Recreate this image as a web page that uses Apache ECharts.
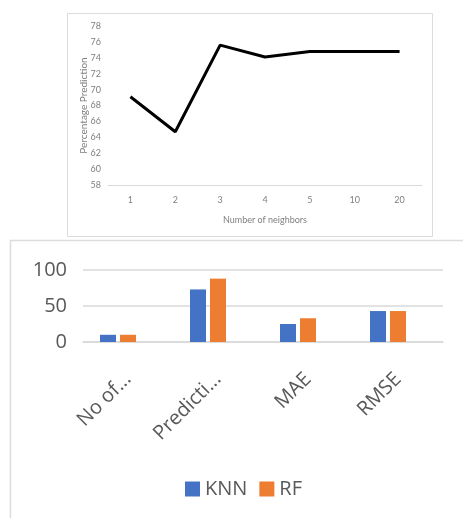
<!DOCTYPE html>
<html>
<head>
<meta charset="utf-8">
<script src="https://cdn.jsdelivr.net/npm/echarts@6/dist/echarts.min.js"></script>
<style>
  html, body { margin: 0; padding: 0; background: #fff; }
  #chart { width: 463px; height: 518px; }
</style>
</head>
<body>
<div id="chart"></div>
<script>
// Accuracy vs. number of neighbours (top panel)
const neighbors = ['1', '2', '3', '4', '5', '10', '20'];
const accuracy = [69.1, 64.7, 75.6, 74.1, 74.8, 74.8, 74.8];

// Model comparison (bottom panel)
const metrics = ['No of...', 'Predicti...', 'MAE', 'RMSE'];
const knnValues = [10, 73, 25, 43];
const rfValues = [10, 88, 33, 43];
const spareValues = [null, null, null, null];

const chart = echarts.init(document.getElementById('chart'), null, { renderer: 'canvas' });

const smallFont = 'Lato, "Open Sans", sans-serif';
const bigFont = '"Open Sans", "Noto Sans", sans-serif';

chart.setOption({
  animation: false,
  backgroundColor: '#fff',
  graphic: [
    { type: 'rect', shape: { x: 67.5, y: 13.5, width: 365, height: 223 },
      style: { fill: 'none', stroke: '#dcdcdc', lineWidth: 1 }, z: -1 },
    { type: 'rect', shape: { x: 10.5, y: 240.5, width: 480, height: 300 },
      style: { fill: 'none', stroke: '#dcdcdc', lineWidth: 1.5 }, z: -1 }
  ],
  legend: {
    data: ['KNN', 'RF'],
    left: 180,
    top: 474,
    itemWidth: 15,
    itemHeight: 15,
    itemGap: 12,
    icon: 'rect',
    textStyle: { fontFamily: bigFont, fontSize: 20, color: '#595959' }
  },
  grid: [
    { left: 108, right: 41, top: 26, bottom: 333 },
    { left: 83, right: 20, top: 270, bottom: 176 }
  ],
  xAxis: [
    {
      gridIndex: 0,
      type: 'category',
      data: neighbors,
      boundaryGap: true,
      name: 'Number of neighbors',
      nameLocation: 'middle',
      nameGap: 31,
      nameTextStyle: { fontFamily: smallFont, fontSize: 9, color: '#7f7f7f' },
      axisLine: { lineStyle: { color: '#d9d9d9', width: 1 } },
      axisTick: { show: false },
      axisLabel: { fontFamily: smallFont, fontSize: 9, color: '#7f7f7f', margin: 11 }
    },
    {
      gridIndex: 1,
      type: 'category',
      data: metrics,
      axisLine: { lineStyle: { color: '#d9d9d9', width: 1.5 } },
      axisTick: { show: false },
      axisLabel: { fontFamily: bigFont, fontSize: 20, color: '#595959', rotate: 45, margin: 34, interval: 0 }
    }
  ],
  yAxis: [
    {
      gridIndex: 0,
      type: 'value',
      min: 58,
      max: 78,
      interval: 2,
      name: 'Percentage Prediction',
      nameLocation: 'middle',
      nameGap: 19,
      nameMoveOverlap: false,
      nameTextStyle: { fontFamily: smallFont, fontSize: 10, color: '#7f7f7f' },
      axisLine: { show: false },
      axisTick: { show: false },
      splitLine: { show: false },
      axisLabel: { fontFamily: smallFont, fontSize: 9, color: '#7f7f7f', margin: 7 }
    },
    {
      gridIndex: 1,
      type: 'value',
      min: 0,
      max: 100,
      interval: 50,
      axisLine: { show: false },
      axisTick: { show: false },
      splitLine: { lineStyle: { color: '#d9d9d9', width: 1.5 } },
      axisLabel: { fontFamily: bigFont, fontSize: 20, color: '#595959', margin: 16 }
    }
  ],
  series: [
    {
      type: 'line',
      xAxisIndex: 0,
      yAxisIndex: 0,
      data: accuracy,
      showSymbol: false,
      lineStyle: { color: '#000', width: 3 },
      itemStyle: { color: '#000' }
    },
    {
      name: 'KNN',
      type: 'bar',
      xAxisIndex: 1,
      yAxisIndex: 1,
      data: knnValues,
      barWidth: 16,
      barGap: '25%',
      itemStyle: { color: '#4472C4' }
    },
    {
      name: 'RF',
      type: 'bar',
      xAxisIndex: 1,
      yAxisIndex: 1,
      data: rfValues,
      barWidth: 16,
      barGap: '25%',
      itemStyle: { color: '#ED7D31' }
    },
    {
      name: 'Series3',
      type: 'bar',
      xAxisIndex: 1,
      yAxisIndex: 1,
      data: spareValues,
      barWidth: 16,
      barGap: '25%',
      itemStyle: { color: '#A5A5A5' }
    }
  ]
});
</script>
</body>
</html>
